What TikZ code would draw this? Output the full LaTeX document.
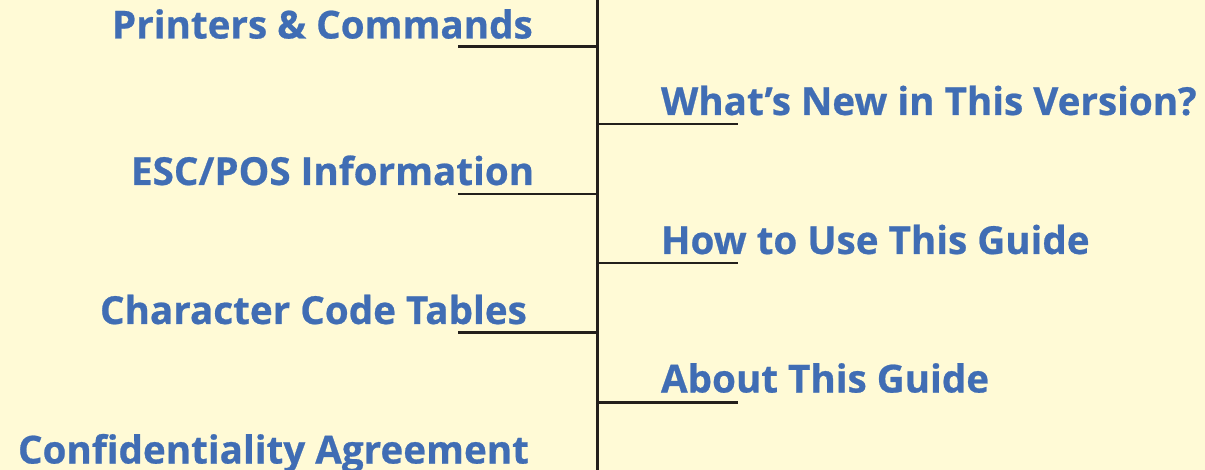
\documentclass[tikz,border=0pt]{standalone}
\usepackage{fontspec}
\setmainfont{Open Sans}[BoldFont={Open Sans Bold},BoldFeatures={FakeBold=0.6}]
\definecolor{bgyellow}{HTML}{FFFAD6}
\definecolor{labelblue}{HTML}{406DB4}
\definecolor{linedark}{HTML}{231F1C}
\begin{document}
\begin{tikzpicture}[x=1pt,y=-1pt,
  lbl/.style={inner sep=0pt,outer sep=0pt,text=labelblue,font=\fontsize{38.6}{44}\selectfont\bfseries},
  conn/.style={draw=linedark,line width=2.5pt},
  spine/.style={draw=linedark,line width=2.7pt}]
\fill[bgyellow] (0,0) rectangle (1205,470);
\useasboundingbox (0,0) rectangle (1205,470);
% spine
\coordinate (top) at (597.3,0);
\coordinate (bot) at (597.3,470);
\draw[spine] (top) -- (bot);
% left branches
\coordinate (l1a) at (458,46.5);  \coordinate (l1b) at (597.3,46.5);
\coordinate (l2a) at (458,193.8); \coordinate (l2b) at (597.3,193.8);
\coordinate (l3a) at (458,332.5); \coordinate (l3b) at (597.3,332.5);
% right branches
\coordinate (r1a) at (597.3,124); \coordinate (r1b) at (738,124);
\coordinate (r2a) at (597.3,263.2); \coordinate (r2b) at (738,263.2);
\coordinate (r3a) at (597.3,402.5); \coordinate (r3b) at (738,402.5);
\draw[conn] (l1a) -- (l1b);
\draw[conn] (l2a) -- (l2b);
\draw[conn] (l3a) -- (l3b);
\draw[conn] (r1a) -- (r1b);
\draw[conn] (r2a) -- (r2b);
\draw[conn] (r3a) -- (r3b);
% labels
\node[lbl,anchor=base west] (printers) at (112,38.5) {Printers \& Commands};
\node[lbl,anchor=base west] (escpos) at (131,185) {ESC/POS Information};
\node[lbl,anchor=base west] (chartab) at (100,324) {Character Code Tables};
\node[lbl,anchor=base west] (confid) at (18,463.5) {Confidentiality Agreement};
\node[lbl,anchor=base west] (whatsnew) at (661,115) {What’s New in This Version?};
\node[lbl,anchor=base west] (howto) at (661,254) {How to Use This Guide};
\node[lbl,anchor=base west] (about) at (661,392.5) {About This Guide};
\end{tikzpicture}
\end{document}
